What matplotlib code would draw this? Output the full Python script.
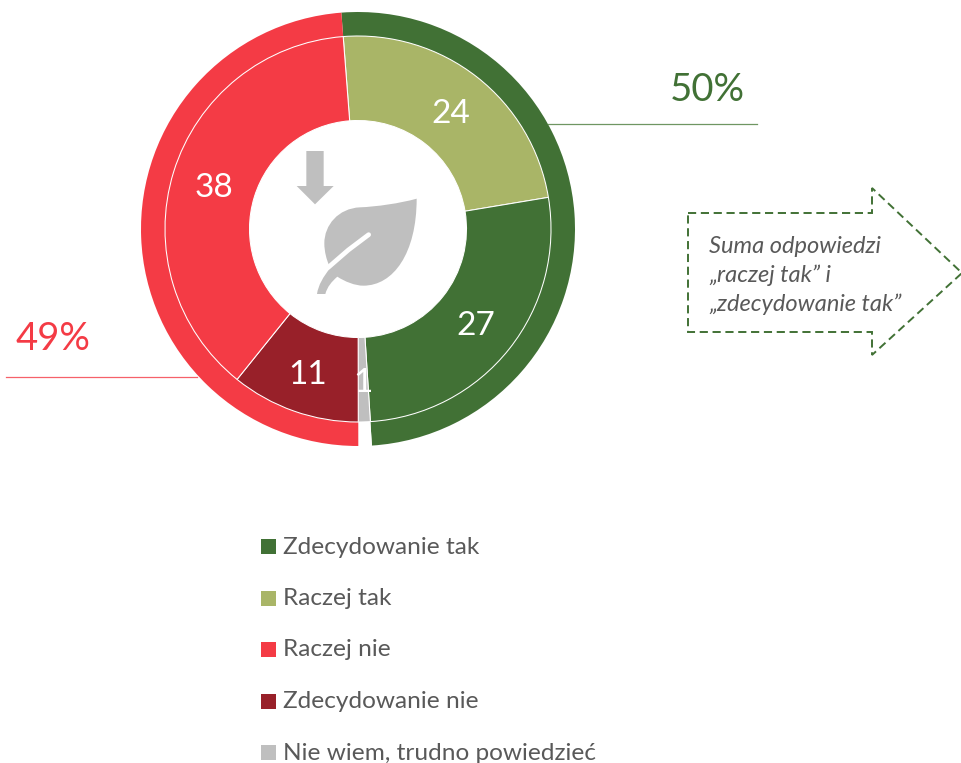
import matplotlib
matplotlib.use("Agg")
import matplotlib.pyplot as plt
from matplotlib.patches import PathPatch, Polygon, Rectangle
from matplotlib.path import Path

W, H = 961, 763

categories = ["Raczej tak", "Zdecydowanie tak", "Nie wiem, trudno powiedzieć", "Zdecydowanie nie", "Raczej nie"]
inner_values = [23.6, 26.6, 1.0, 10.8, 38.0]
inner_colors = ["#A9B567", "#417135", "#BFBFBF", "#982029", "#F43B45"]

# zewnetrzny pierscien (suma tak / przerwa / suma nie)
outer_values = [50.2, 1.0, 48.8]
outer_colors = ["#417135", "white", "#F43B45"]

legend_labels = ["Zdecydowanie tak", "Raczej tak", "Raczej nie", "Zdecydowanie nie", "Nie wiem, trudno powiedzieć"]
legend_colors = ["#417135", "#A9B567", "#F43B45", "#982029", "#BFBFBF"]

sum_yes = "50%"
sum_no = "49%"
note_lines = ["Suma odpowiedzi", "„raczej tak” i", "„zdecydowanie tak”"]

CX, CY = 358, 229
GRAY_TXT = "#595959"
GRAY = "#BFBFBF"

plt.rcParams["font.family"] = ["Lato", "DejaVu Sans"]


def py(y):
    # y liczony od gory obrazka
    return H - y


def icon(x, y):
    # wspolrzedne ikony mierzone na wycinku
    return (280 + x / 3.0, py(140 + y / 3.0))


fig = plt.figure(figsize=(W / 100, H / 100), dpi=100)
ax = fig.add_axes([0, 0, 1, 1])

ax.pie(outer_values, colors=outer_colors, center=(CX, py(CY)), radius=217, startangle=94.4,
       counterclock=False, frame=True, wedgeprops=dict(width=25, edgecolor="none", linewidth=0))
_, _, autotexts = ax.pie(inner_values, colors=inner_colors, center=(CX, py(CY)), radius=193, startangle=94.4,
                         counterclock=False, frame=True, wedgeprops=dict(width=84.5, edgecolor="white", linewidth=0.75),
                         autopct=lambda p: "%d" % round(p), pctdistance=0.78,
                         textprops=dict(color="white", fontsize=24, family="Lato"))
for t in autotexts:
    t.set_y(t.get_position()[1] - 3.5)
ax.set_xlim(0, W)
ax.set_ylim(0, H)
ax.set_aspect("equal")
ax.axis("off")

# linie i sumy
ax.plot([548, 757], [py(124), py(124)], color="#6F9662", lw=0.9, zorder=1)
ax.plot([6, 197], [py(377), py(377)], color="#F6616A", lw=0.9, zorder=1)
ax.text(707.5, py(90), sum_yes, color="#417135", fontsize=27.5, ha="center", va="center")
ax.text(52.5, py(339), sum_no, color="#F43B45", fontsize=27.5, ha="center", va="center")

# strzalka z opisem
ax.add_patch(Polygon([(688, py(213)), (872, py(213)), (872, py(188)), (962, py(273)),
                      (872, py(355)), (872, py(332)), (688, py(332))],
                     closed=True, fill=False, edgecolor="#417135", lw=1.4, linestyle=(0, (4.2, 2.4))))
for i, line in enumerate(note_lines):
    ax.text(709, py(246.5 + i * 29), line, color=GRAY_TXT, fontsize=17, style="italic", ha="left", va="center")

# legenda
for i, (lab, col) in enumerate(zip(legend_labels, legend_colors)):
    yc = 546.5 + i * 51.5
    ax.add_patch(Rectangle((261, py(yc + 7.5)), 15, 15, facecolor=col, edgecolor="none"))
    ax.text(283, py(yc + 0.5), lab, color=GRAY_TXT, fontsize=17.6, ha="left", va="center")

# ikona: strzalka w dol
ax.add_patch(Polygon([icon(79, 33), icon(131, 33), icon(131, 138), icon(161, 138), icon(105, 193),
                      icon(50, 138), icon(79, 138)], closed=True, facecolor=GRAY, edgecolor="none"))

# ikona: lisc
M, C, L = Path.MOVETO, Path.CURVE4, Path.LINETO
leaf = [((410, 176), M),
        ((360, 190), C), ((290, 200), C), ((240, 202), C),
        ((175, 205), C), ((133, 255), C), ((133, 310), C),
        ((133, 335), C), ((140, 360), C), ((147, 375), C),
        ((150, 385), L),
        ((130, 410), C), ((115, 435), C), ((111, 462), C),
        ((136, 462), L),
        ((142, 440), C), ((155, 425), C), ((172, 410), C),
        ((195, 425), C), ((225, 437), C), ((250, 437), C),
        ((340, 437), C), ((410, 340), C), ((410, 176), C),
        ((410, 176), Path.CLOSEPOLY)]
ax.add_patch(PathPatch(Path([icon(*p) for p, _ in leaf], [c for _, c in leaf]),
                       facecolor=GRAY, edgecolor="none"))
ax.plot(*zip(icon(266, 284), icon(205, 330), icon(145, 382)), color="white", lw=3.4, solid_capstyle="round")

fig.savefig("out.png", dpi=100, facecolor="white")
